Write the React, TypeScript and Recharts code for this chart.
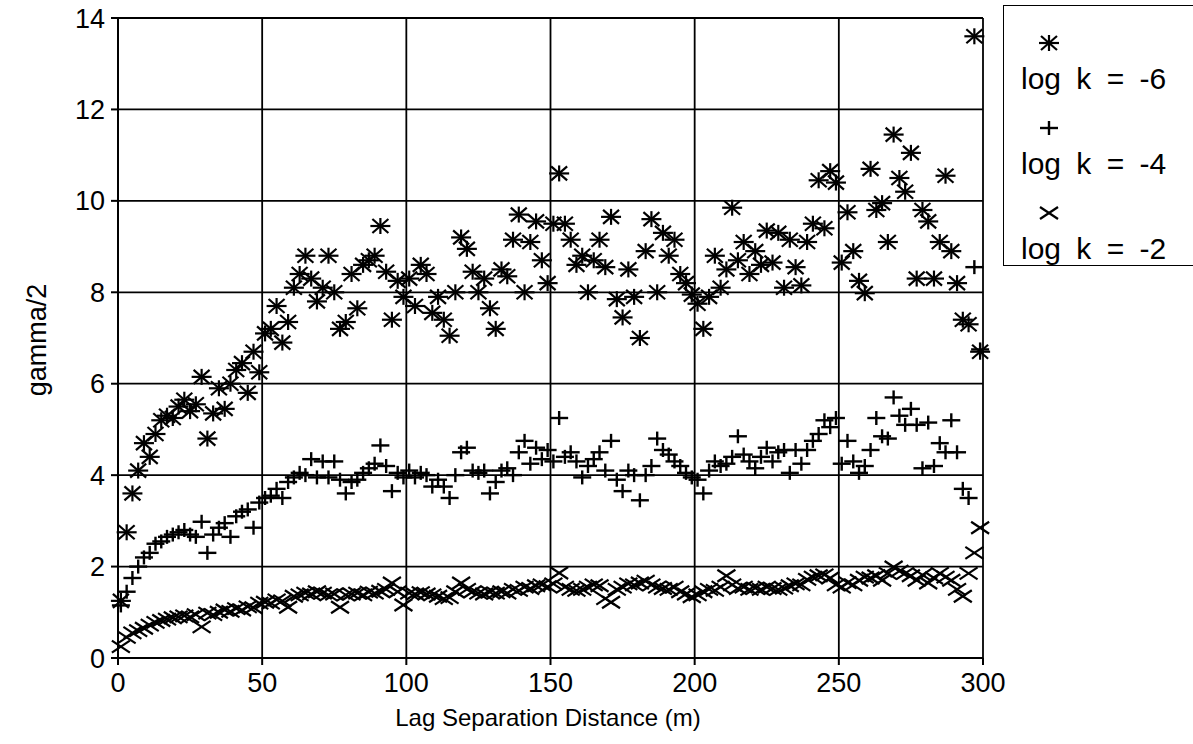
import { CartesianGrid, Scatter, ScatterChart, XAxis, YAxis } from 'recharts';

const FONT = '"Liberation Sans", Arial, Helvetica, sans-serif';

// lag separation distance (m), one reading every 2 m
const lags = [
  1, 3, 5, 7, 9, 11, 13, 15, 17, 19,
  21, 23, 25, 27, 29, 31, 33, 35, 37, 39,
  41, 43, 45, 47, 49, 51, 53, 55, 57, 59,
  61, 63, 65, 67, 69, 71, 73, 75, 77, 79,
  81, 83, 85, 87, 89, 91, 93, 95, 97, 99,
  101, 103, 105, 107, 109, 111, 113, 115, 117, 119,
  121, 123, 125, 127, 129, 131, 133, 135, 137, 139,
  141, 143, 145, 147, 149, 151, 153, 155, 157, 159,
  161, 163, 165, 167, 169, 171, 173, 175, 177, 179,
  181, 183, 185, 187, 189, 191, 193, 195, 197, 199,
  201, 203, 205, 207, 209, 211, 213, 215, 217, 219,
  221, 223, 225, 227, 229, 231, 233, 235, 237, 239,
  241, 243, 245, 247, 249, 251, 253, 255, 257, 259,
  261, 263, 265, 267, 269, 271, 273, 275, 277, 279,
  281, 283, 285, 287, 289, 291, 293, 295, 297, 299,
];

// gamma/2, log k = -6
const gammaK6 = [
  1.25, 2.75, 3.6, 4.1, 4.7, 4.4, 4.9, 5.2, 5.3, 5.25,
  5.5, 5.65, 5.4, 5.55, 6.15, 4.8, 5.35, 5.9, 5.45, 6.0,
  6.3, 6.45, 5.8, 6.7, 6.25, 7.1, 7.2, 7.7, 6.9, 7.35,
  8.1, 8.4, 8.8, 8.3, 7.8, 8.1, 8.8, 8.0, 7.2, 7.35,
  8.4, 7.65, 8.6, 8.7, 8.8, 9.45, 8.45, 7.4, 8.25, 7.9,
  8.3, 7.7, 8.6, 8.4, 7.55, 7.9, 7.4, 7.05, 8.0, 9.2,
  8.95, 8.45, 8.0, 8.3, 7.65, 7.2, 8.5, 8.35, 9.15, 9.7,
  8.0, 9.1, 9.55, 8.7, 8.2, 9.5, 10.6, 9.5, 9.15, 8.6,
  8.8, 8.0, 8.7, 9.15, 8.55, 9.65, 7.85, 7.45, 8.5, 7.9,
  7.0, 8.9, 9.6, 8.0, 9.3, 8.8, 9.15, 8.4, 8.2, 7.95,
  7.75, 7.2, 7.9, 8.8, 8.1, 8.5, 9.85, 8.7, 9.1, 8.4,
  8.9, 8.6, 9.35, 8.65, 9.3, 8.1, 9.15, 8.55, 8.15, 9.1,
  9.5, 10.45, 9.4, 10.65, 10.4, 8.65, 9.75, 8.9, 8.25, 7.98,
  10.7, 9.8, 9.95, 9.1, 11.45, 10.5, 10.2, 11.05, 8.3, 9.8,
  9.55, 8.3, 9.1, 10.55, 8.9, 8.2, 7.4, 7.3, 13.6, 6.7,
];

// gamma/2, log k = -4
const gammaK4 = [
  1.15, 1.45, 1.75, 2.0, 2.2, 2.3, 2.5, 2.55, 2.65, 2.7,
  2.75, 2.8, 2.7, 2.65, 2.98, 2.3, 2.7, 2.85, 2.95, 2.65,
  3.1, 3.2, 3.25, 2.85, 3.4, 3.5, 3.55, 3.7, 3.5, 3.85,
  3.95, 4.05, 4.0, 4.35, 3.95, 4.3, 3.95, 4.3, 3.9, 3.6,
  3.85, 3.9, 4.05, 4.15, 4.25, 4.65, 4.2, 3.65, 4.05, 3.95,
  4.1, 3.95, 4.05, 4.0, 3.75, 3.9, 3.75, 3.5, 4.0, 4.5,
  4.6, 4.1, 4.05, 4.1, 3.6, 3.85, 4.1, 4.15, 4.0, 4.5,
  4.75, 4.25, 4.6, 4.35, 4.55, 4.3, 5.25, 4.4, 4.5, 4.3,
  3.95, 4.2, 4.35, 4.5, 4.1, 4.75, 3.9, 3.65, 4.1, 4.0,
  3.45, 4.0, 4.2, 4.8, 4.55, 4.45, 4.3, 4.2, 4.05, 3.95,
  3.9, 3.6, 4.1, 4.3, 4.2, 4.25, 4.4, 4.85, 4.45, 4.3,
  4.15, 4.4, 4.6, 4.3, 4.5, 4.55, 4.05, 4.55, 4.25, 4.55,
  4.75, 4.9, 5.2, 5.05, 5.25, 4.25, 4.75, 4.3, 4.05, 4.2,
  4.55, 5.25, 4.85, 4.8, 5.7, 5.3, 5.1, 5.45, 5.1, 4.15,
  5.15, 4.2, 4.7, 4.5, 5.2, 4.5, 3.7, 3.5, 8.55, 6.75,
];

// gamma/2, log k = -2
const gammaK2 = [
  0.25, 0.45, 0.55, 0.6, 0.65, 0.72, 0.78, 0.82, 0.85, 0.88,
  0.9, 0.92, 0.9, 0.95, 0.68, 0.98, 0.95, 1.0, 1.05, 1.02,
  1.08, 1.05, 1.12, 1.1, 1.2, 1.22, 1.2, 1.27, 1.25, 1.11,
  1.35, 1.38, 1.42, 1.4, 1.45, 1.42, 1.38, 1.4, 1.11, 1.38,
  1.4, 1.42, 1.38, 1.44, 1.42, 1.46, 1.5, 1.64, 1.45, 1.16,
  1.42, 1.4, 1.43, 1.4, 1.38, 1.35, 1.3, 1.32, 1.45, 1.64,
  1.5, 1.45, 1.42, 1.4, 1.44, 1.42, 1.45, 1.42, 1.5, 1.48,
  1.55, 1.52, 1.58, 1.6, 1.56, 1.62, 1.86, 1.55, 1.5, 1.48,
  1.5, 1.55, 1.6, 1.58, 1.3, 1.22, 1.5, 1.55, 1.62, 1.6,
  1.64, 1.68, 1.6, 1.55, 1.52, 1.5, 1.55, 1.45, 1.4, 1.34,
  1.38, 1.45, 1.5, 1.48, 1.55, 1.8, 1.6, 1.52, 1.55, 1.5,
  1.53, 1.5, 1.55, 1.52, 1.5, 1.53, 1.58, 1.62, 1.6, 1.72,
  1.77, 1.8, 1.82, 1.75, 1.6, 1.55, 1.65, 1.6, 1.7, 1.77,
  1.75, 1.8, 1.7, 1.85, 1.99, 1.9, 1.85, 1.8, 1.7, 1.82,
  1.64, 1.75, 1.85, 1.77, 1.7, 1.5, 1.35, 1.85, 2.3, 2.85,
];

const xTicks = [0, 50, 100, 150, 200, 250, 300];
const yTicks = [0, 2, 4, 6, 8, 10, 12, 14];

const legendLabels = ['log k = -6', 'log k = -4', 'log k = -2'];

const toPoints = (vals: number[]) => vals.map((g, i) => ({ lag: lags[i], gamma: g }));

function Asterisk({ cx, cy }: any) {
  return (
    <g stroke="#000" strokeWidth={2.2}>
      <line x1={cx - 10} y1={cy} x2={cx + 10} y2={cy} />
      <line x1={cx} y1={cy - 8} x2={cx} y2={cy + 8} />
      <line x1={cx - 8} y1={cy - 7} x2={cx + 8} y2={cy + 7} />
      <line x1={cx - 8} y1={cy + 7} x2={cx + 8} y2={cy - 7} />
    </g>
  );
}

function Plus({ cx, cy }: any) {
  return (
    <g stroke="#000" strokeWidth={2.4}>
      <line x1={cx - 9} y1={cy} x2={cx + 9} y2={cy} />
      <line x1={cx} y1={cy - 7} x2={cx} y2={cy + 7} />
    </g>
  );
}

function Cross({ cx, cy }: any) {
  return (
    <g stroke="#000" strokeWidth={2.2}>
      <line x1={cx - 9} y1={cy - 6} x2={cx + 9} y2={cy + 6} />
      <line x1={cx - 9} y1={cy + 6} x2={cx + 9} y2={cy - 6} />
    </g>
  );
}

const legendMarkers = [Asterisk, Plus, Cross];

export default function App() {
  return (
    <div
      style={{
        position: 'fixed',
        left: 0,
        top: 0,
        width: 1193,
        height: 744,
        background: '#fff',
        fontFamily: FONT,
      }}
    >
      <ScatterChart
        width={1193}
        height={744}
        margin={{ top: 18, right: 210, bottom: 0, left: 0 }}
      >
        <CartesianGrid stroke="#000" strokeWidth={1.8} strokeOpacity={1} />
        <XAxis
          type="number"
          dataKey="lag"
          domain={[0, 300]}
          ticks={xTicks}
          height={86}
          axisLine={{ stroke: '#000', strokeWidth: 2 }}
          tickLine={{ stroke: '#000', strokeWidth: 2 }}
          tickSize={7}
          tickMargin={8}
          tick={{ fill: '#000', fontSize: 27, fontFamily: FONT }}
        />
        <YAxis
          type="number"
          dataKey="gamma"
          domain={[0, 14]}
          ticks={yTicks}
          width={118}
          axisLine={{ stroke: '#000', strokeWidth: 2 }}
          tickLine={{ stroke: '#000', strokeWidth: 2 }}
          tickSize={7}
          tickMargin={6}
          tick={{ fill: '#000', fontSize: 27, fontFamily: FONT }}
        />
        <Scatter data={toPoints(gammaK2)} shape={Cross} isAnimationActive={false} />
        <Scatter data={toPoints(gammaK4)} shape={Plus} isAnimationActive={false} />
        <Scatter data={toPoints(gammaK6)} shape={Asterisk} isAnimationActive={false} />
      </ScatterChart>

      <div
        style={{
          position: 'absolute',
          left: 0,
          top: 704,
          width: 1096,
          textAlign: 'center',
          fontSize: 24,
          color: '#000',
        }}
      >
        Lag Separation Distance (m)
      </div>
      <div
        style={{
          position: 'absolute',
          left: 37,
          top: 340,
          transform: 'translate(-50%, -50%) rotate(-90deg)',
          fontSize: 27,
          whiteSpace: 'nowrap',
          color: '#000',
        }}
      >
        gamma/2
      </div>

      <div
        style={{
          position: 'absolute',
          left: 1003,
          top: 5,
          width: 200,
          height: 259,
          border: '1.5px solid #000',
        }}
      >
        {legendLabels.map((label, i) => {
          const Marker = legendMarkers[i];
          return (
            <div key={label} style={{ position: 'absolute', left: 0, top: 18 + i * 85 }}>
              <svg width={100} height={40} style={{ position: 'absolute', left: 0, top: 0 }}>
                <Marker cx={45} cy={19} />
              </svg>
              <div
                style={{
                  position: 'absolute',
                  left: 17,
                  top: 38,
                  fontSize: 30,
                  wordSpacing: 7,
                  whiteSpace: 'nowrap',
                  color: '#000',
                }}
              >
                {label}
              </div>
            </div>
          );
        })}
      </div>
    </div>
  );
}
